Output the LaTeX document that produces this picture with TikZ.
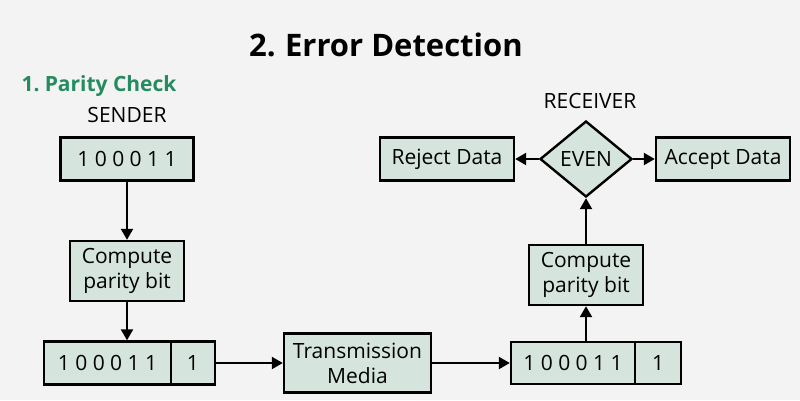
\documentclass[tikz,border=0pt]{standalone}
\usepackage{fontspec}
\setmainfont{Open Sans}
\usetikzlibrary{arrows.meta,shapes.geometric}
\definecolor{sfondo}{RGB}{243,243,243}
\definecolor{riemp}{RGB}{213,229,222}
\definecolor{verde}{RGB}{38,140,96}
\begin{document}
\begin{tikzpicture}[x=1pt, y=-1pt, >={Triangle[length=11pt,width=12pt]},
	font=\fontsize{21}{25}\selectfont,
	blocco/.style = {rectangle, fill=riemp, draw=black,
		inner sep=0pt, line width=2.4pt, align=center},
	rombo/.style  = {diamond, fill=riemp, draw=black, inner sep=0pt,
		line width=2.4pt, minimum width=92pt, minimum height=76pt},
	freccia/.style = {->, line width=2.2pt},
	]
	
	%% ── Sfondo ───────────────────────────────────────────────────────────────
	\useasboundingbox(0,0)rectangle(800,400);
	\fill[sfondo](0,0)rectangle(800,400);
	
	%% ── Quote delle righe ────────────────────────────────────────────────────
	\def\yA{159}    % riga alta
	\def\yB{363}    % riga bassa
	\def\xS{127}    % colonna mittente
	\def\xR{586}    % colonna ricevente
	
	%% ── Titoli ───────────────────────────────────────────────────────────────
	\node[font=\fontsize{31}{38}\selectfont\bfseries](titolo)at(386,45)
	{2.\hspace{0.3em}Error Detection};
	\node[font=\fontsize{21}{26}\selectfont\bfseries, text=verde,
	anchor=west](metodo)at(18,86){1.\hspace{0.25em}Parity Check};
	\node(mitt)at(\xS,115){SENDER};
	\node(ricev)at(590,101){RECEIVER};
	
	%% ── Mittente ─────────────────────────────────────────────────────────────
	\node[blocco, minimum width=133pt, minimum height=43pt](datoS)
	at(\xS,\yA){1 0 0 0 1 1};
	\node[blocco, minimum width=114pt, minimum height=60pt](calcS)
	at(\xS,271){Compute\\parity bit};
	\node[blocco, minimum width=127pt, minimum height=43pt](bitS)
	at(107.5,\yB){1 0 0 0 1 1};
	\node[blocco, minimum width=44pt, minimum height=43pt](parS)
	at(193,\yB){1};
	
	%% ── Mezzo trasmissivo ────────────────────────────────────────────────────
	\node[blocco, minimum width=147pt, minimum height=59pt](mezzo)
	at(357.5,\yB){Transmission\\Media};
	
	%% ── Ricevente ────────────────────────────────────────────────────────────
	\node[blocco, minimum width=124pt, minimum height=42pt](bitR)
	at(573,\yB){1 0 0 0 1 1};
	\node[blocco, minimum width=46pt, minimum height=42pt](parR)
	at(658,\yB){1};
	\node[blocco, minimum width=114pt, minimum height=60pt](calcR)
	at(\xR,275){Compute\\parity bit};
	\node[rombo](pari)at(\xR,\yA){EVEN};
	\node[blocco, minimum width=134pt, minimum height=43pt](rifiuta)
	at(447,\yA){Reject Data};
	\node[blocco, minimum width=134pt, minimum height=43pt](accetta)
	at(723,\yA){Accept Data};
	
	%% ── Frecce ───────────────────────────────────────────────────────────────
	\draw[freccia](datoS)--(calcS);
	\draw[freccia](calcS.south)--(calcS.south |- bitS.north);
	\draw[freccia](parS)--(mezzo);
	\draw[freccia](mezzo)--(bitR);
	\draw[freccia](bitR.north -| calcR)--(calcR);
	\draw[freccia](calcR)--(pari);
	\draw[freccia](pari)--(rifiuta);
	\draw[freccia](pari)--(accetta);
	
\end{tikzpicture}
\end{document}
